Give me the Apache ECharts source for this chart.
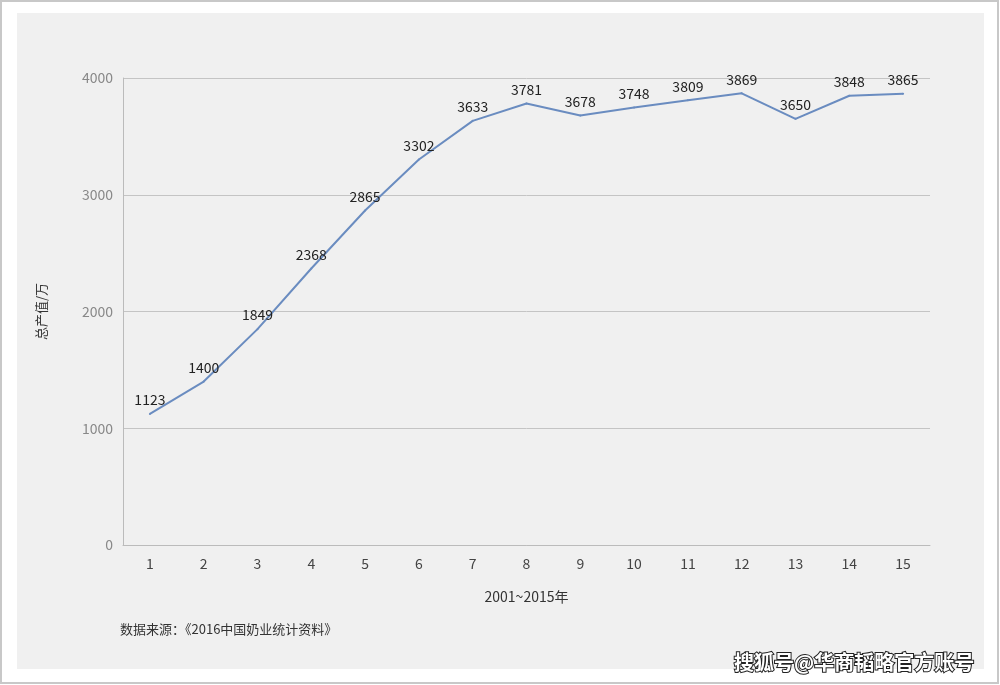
<!DOCTYPE html>
<html><head><meta charset="utf-8">
<script src="https://cdn.jsdelivr.net/npm/echarts@6/dist/echarts.min.js"></script>
<style>html,body{margin:0;padding:0;background:#fff}#c{width:1000px;height:685px}</style>
</head><body><div id="c"></div>
<script>
const categories = ['1','2','3','4','5','6','7','8','9','10','11','12','13','14','15'];
const values = [1123,1400,1849,2368,2865,3302,3633,3781,3678,3748,3809,3869,3650,3848,3865];
const font = '"Noto Sans CJK SC","Noto Sans",sans-serif';
const chart = echarts.init(document.getElementById('c'));
chart.setOption({
  backgroundColor: '#ffffff',
  animation: false,
  graphic: [
    {type:'rect', shape:{x:1,y:1,width:997,height:682}, style:{fill:'none', stroke:'#c8c8c8', lineWidth:2}},
    {type:'rect', shape:{x:17,y:13,width:967,height:656}, style:{fill:'#f0f0f0'}, z:-1},
    {type:'text', left:120, top:623, style:{text:'数据来源：《2016中国奶业统计资料》', fill:'#333', font:'13px '+font}},
    {type:'text', left:733, top:651, style:{text:'搜狐号@华商韬略官方账号', fill:'#fff', stroke:'#222', lineWidth:2, font:'bold 20px '+font}, z:10}
  ],
  grid: {left:123, right:70, top:78, bottom:140},
  xAxis: {
    type:'category', data:categories, boundaryGap:true,
    name:'2001~2015年', nameLocation:'middle', nameGap:45,
    nameTextStyle:{color:'#333', fontSize:14, fontFamily:font},
    axisLine:{lineStyle:{color:'#bbb'}}, axisTick:{lineStyle:{color:'#bbb'}},
    axisLabel:{color:'#444', fontSize:14, margin:12, fontFamily:font}
  },
  yAxis: {
    type:'value', min:0, max:4000, interval:1000,
    name:'总产值/万', nameLocation:'middle', nameGap:75,
    nameTextStyle:{color:'#333', fontSize:13, fontFamily:font},
    axisLine:{show:true, lineStyle:{color:'#bbb'}}, axisTick:{show:false},
    axisLabel:{color:'#888', fontSize:14, margin:10, fontFamily:font, formatter:v=>String(v)},
    splitLine:{lineStyle:{color:'#c4c4c4'}}
  },
  series: [{
    type:'line', data:values, symbol:'circle', symbolSize:2, showSymbol:true,
    itemStyle:{color:'#6a8cc0'},
    lineStyle:{color:'#6a8cc0', width:2},
    labelLayout:{hideOverlap:false},
    label:{show:true, position:'top', color:'#222', fontSize:14, distance:6, fontFamily:font}
  }]
});
</script></body></html>
